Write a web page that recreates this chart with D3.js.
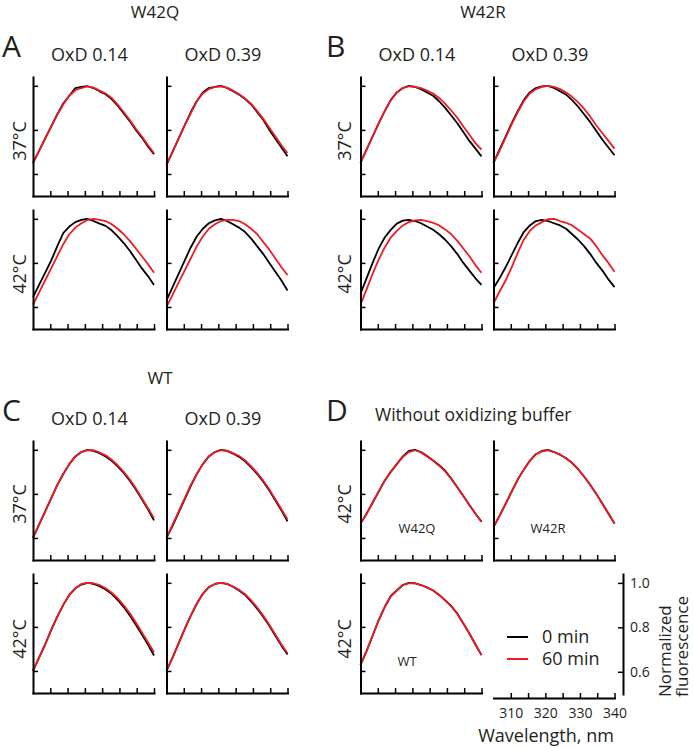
<!DOCTYPE html>
<html><head><meta charset="utf-8">
<script src="https://cdn.jsdelivr.net/npm/d3@7"></script>
<style>
body{margin:0;background:#fff}
svg text{font-family:"Open Sans","Noto Sans",sans-serif;fill:#231f20}
</style>
</head><body>
<svg id="chart" width="693" height="748"></svg>
<script>
// ---------- data ----------
const wavelengths = [305,306.75,308.5,310.25,312,313.75,315.5,317.25,319,320.75,322.5,324.25,326,327.75,329.5,331.25,333,334.75,336.5,338.25,340];
const xTicks = [310,315,320,325,330,335,340];
const xTickLabels = [310,320,330,340];
const yTicks = [0.6,0.8,1.0];
const seriesNames = ["0 min","60 min"];

// Panel A – W42Q
const w42q_ox014_37_0 = [0.65,0.705,0.76,0.815,0.87,0.92,0.955,0.99,0.995,0.998,0.99,0.975,0.962,0.94,0.91,0.875,0.84,0.80,0.765,0.725,0.69];
const w42q_ox014_37_60 = [0.65,0.705,0.76,0.815,0.868,0.915,0.955,0.98,0.99,0.998,0.992,0.978,0.965,0.945,0.915,0.88,0.845,0.805,0.77,0.73,0.695];
const w42q_ox039_37_0 = [0.64,0.70,0.76,0.82,0.88,0.93,0.97,0.99,0.995,1.0,0.99,0.975,0.96,0.94,0.915,0.88,0.845,0.80,0.76,0.72,0.68];
const w42q_ox039_37_60 = [0.645,0.70,0.76,0.82,0.875,0.93,0.965,0.985,0.995,0.998,0.992,0.978,0.962,0.942,0.918,0.885,0.85,0.81,0.77,0.73,0.695];
const w42q_ox014_42_0 = [0.645,0.70,0.755,0.81,0.875,0.935,0.965,0.985,0.995,1.0,0.99,0.978,0.968,0.948,0.92,0.89,0.855,0.815,0.775,0.74,0.70];
const w42q_ox014_42_60 = [0.61,0.665,0.72,0.775,0.83,0.885,0.93,0.96,0.98,0.995,1.0,0.995,0.99,0.975,0.955,0.93,0.90,0.865,0.83,0.795,0.755];
const w42q_ox039_42_0 = [0.63,0.69,0.75,0.81,0.87,0.92,0.955,0.98,0.993,1.0,0.99,0.975,0.96,0.94,0.91,0.875,0.84,0.80,0.76,0.72,0.675];
const w42q_ox039_42_60 = [0.60,0.655,0.71,0.765,0.82,0.875,0.92,0.955,0.975,0.99,0.995,0.995,0.99,0.975,0.955,0.93,0.895,0.86,0.82,0.78,0.745];

// Panel B – W42R
const w42r_ox014_37_0 = [0.65,0.71,0.77,0.83,0.885,0.935,0.97,0.99,1.0,0.995,0.985,0.97,0.955,0.93,0.90,0.865,0.83,0.79,0.75,0.715,0.68];
const w42r_ox014_37_60 = [0.65,0.71,0.77,0.83,0.885,0.935,0.97,0.99,0.998,0.995,0.99,0.978,0.965,0.945,0.918,0.888,0.855,0.815,0.778,0.74,0.71];
const w42r_ox039_37_0 = [0.65,0.71,0.77,0.83,0.885,0.935,0.97,0.99,0.997,1.0,0.99,0.975,0.96,0.935,0.905,0.87,0.835,0.795,0.755,0.72,0.685];
const w42r_ox039_37_60 = [0.65,0.705,0.765,0.825,0.88,0.93,0.965,0.985,0.995,1.0,0.995,0.985,0.97,0.95,0.925,0.895,0.86,0.82,0.785,0.75,0.715];
const w42r_ox014_42_0 = [0.66,0.73,0.80,0.865,0.915,0.95,0.978,0.992,0.995,0.99,0.98,0.965,0.95,0.93,0.905,0.875,0.84,0.80,0.765,0.73,0.70];
const w42r_ox014_42_60 = [0.61,0.68,0.75,0.815,0.87,0.915,0.945,0.97,0.985,0.993,0.995,0.99,0.982,0.97,0.952,0.93,0.90,0.865,0.83,0.79,0.755];
const w42r_ox039_42_0 = [0.685,0.73,0.78,0.835,0.89,0.94,0.97,0.99,0.995,0.99,0.98,0.97,0.955,0.93,0.905,0.875,0.84,0.80,0.765,0.725,0.69];
const w42r_ox039_42_60 = [0.617,0.67,0.72,0.78,0.845,0.905,0.945,0.97,0.985,0.998,1.0,0.99,0.982,0.97,0.95,0.93,0.91,0.875,0.835,0.80,0.76];

// Panel C – WT
const wt_ox014_37_0 = [0.60,0.66,0.72,0.78,0.84,0.89,0.935,0.97,0.99,1.0,0.995,0.985,0.97,0.95,0.925,0.895,0.86,0.82,0.775,0.73,0.68];
const wt_ox014_37_60 = [0.60,0.66,0.72,0.78,0.84,0.89,0.935,0.97,0.99,0.998,0.998,0.988,0.975,0.955,0.93,0.90,0.865,0.825,0.78,0.735,0.69];
const wt_ox039_37_0 = [0.60,0.655,0.715,0.775,0.835,0.89,0.935,0.97,0.99,1.0,0.995,0.983,0.968,0.948,0.92,0.89,0.855,0.815,0.77,0.725,0.675];
const wt_ox039_37_60 = [0.60,0.66,0.72,0.78,0.84,0.89,0.935,0.97,0.99,0.998,0.996,0.985,0.972,0.952,0.925,0.895,0.86,0.82,0.775,0.73,0.685];
const wt_ox014_42_0 = [0.60,0.66,0.72,0.785,0.845,0.90,0.945,0.975,0.992,1.0,0.995,0.985,0.97,0.95,0.922,0.89,0.852,0.81,0.765,0.72,0.67];
const wt_ox014_42_60 = [0.60,0.66,0.72,0.785,0.845,0.90,0.945,0.975,0.995,1.0,0.998,0.99,0.975,0.955,0.93,0.898,0.862,0.82,0.775,0.73,0.685];
const wt_ox039_42_0 = [0.60,0.66,0.725,0.79,0.85,0.905,0.95,0.98,0.995,1.0,0.995,0.982,0.965,0.945,0.915,0.882,0.845,0.805,0.76,0.715,0.675];
const wt_ox039_42_60 = [0.60,0.66,0.725,0.79,0.85,0.905,0.95,0.98,0.995,1.0,0.995,0.983,0.968,0.948,0.92,0.888,0.85,0.81,0.765,0.72,0.68];

// Panel D – without oxidizing buffer, 42 °C
const noox_w42q_0 = [0.665,0.71,0.76,0.81,0.86,0.90,0.935,0.97,0.995,1.0,0.99,0.972,0.952,0.93,0.905,0.87,0.83,0.79,0.75,0.71,0.675];
const noox_w42q_60 = [0.665,0.71,0.76,0.81,0.86,0.90,0.935,0.968,0.99,0.998,0.988,0.97,0.95,0.928,0.902,0.868,0.83,0.79,0.75,0.71,0.672];
const noox_w42r_0 = [0.65,0.70,0.755,0.81,0.865,0.91,0.95,0.98,0.995,1.0,0.99,0.978,0.962,0.94,0.912,0.878,0.84,0.80,0.755,0.71,0.665];
const noox_w42r_60 = [0.65,0.70,0.755,0.81,0.865,0.91,0.95,0.98,0.993,0.998,0.99,0.978,0.962,0.94,0.912,0.878,0.84,0.80,0.755,0.712,0.665];
const noox_wt_0 = [0.627,0.69,0.76,0.83,0.89,0.94,0.965,0.99,1.0,0.998,0.99,0.98,0.965,0.945,0.92,0.895,0.86,0.815,0.77,0.72,0.672];
const noox_wt_60 = [0.627,0.69,0.76,0.83,0.89,0.938,0.965,0.99,0.998,0.998,0.99,0.978,0.965,0.945,0.92,0.893,0.86,0.815,0.77,0.72,0.672];

// ---------- layout ----------
const COLORS = ["#000000", "#ec1c24"];
const PW = 121, PH = 119;
const colX = [33, 166.5, 360.5, 493.5];
const rowY = [77, 210, 441, 574];

const panels = [
  {c:0,r:0,s:[w42q_ox014_37_0,w42q_ox014_37_60]},
  {c:1,r:0,s:[w42q_ox039_37_0,w42q_ox039_37_60]},
  {c:0,r:1,s:[w42q_ox014_42_0,w42q_ox014_42_60]},
  {c:1,r:1,s:[w42q_ox039_42_0,w42q_ox039_42_60]},
  {c:2,r:0,s:[w42r_ox014_37_0,w42r_ox014_37_60]},
  {c:3,r:0,s:[w42r_ox039_37_0,w42r_ox039_37_60]},
  {c:2,r:1,s:[w42r_ox014_42_0,w42r_ox014_42_60]},
  {c:3,r:1,s:[w42r_ox039_42_0,w42r_ox039_42_60]},
  {c:0,r:2,s:[wt_ox014_37_0,wt_ox014_37_60]},
  {c:1,r:2,s:[wt_ox039_37_0,wt_ox039_37_60]},
  {c:0,r:3,s:[wt_ox014_42_0,wt_ox014_42_60]},
  {c:1,r:3,s:[wt_ox039_42_0,wt_ox039_42_60]},
  {c:2,r:2,s:[noox_w42q_0,noox_w42q_60]},
  {c:3,r:2,s:[noox_w42r_0,noox_w42r_60]},
  {c:2,r:3,s:[noox_wt_0,noox_wt_60]}
];

const svg = d3.select("#chart");

function styleAxis(g){
  g.select(".domain").attr("stroke","#000").attr("stroke-width",2).attr("stroke-linecap","square");
  g.selectAll(".tick line").attr("stroke","#000").attr("stroke-width",1.5);
}

panels.forEach(p => {
  const x0 = colX[p.c], y0 = rowY[p.r];
  const x = d3.scaleLinear().domain([305,340]).range([x0, x0+PW]);
  const y = d3.scaleLinear().domain([0.5,1.04]).range([y0+PH, y0]);
  const g = svg.append("g");
  const line = d3.line().x((d,i)=>x(wavelengths[i])).y(d=>y(d));
  p.s.forEach((vals,k) => {
    g.append("path").datum(vals).attr("d", line)
      .attr("fill","none").attr("stroke",COLORS[k]).attr("stroke-width",1.8)
      .attr("stroke-linejoin","round");
  });
  g.append("g").attr("transform",`translate(${x0},0)`)
    .call(d3.axisRight(y).tickValues(yTicks).tickSize(5).tickSizeOuter(0).tickFormat(""))
    .call(styleAxis);
  g.append("g").attr("transform",`translate(0,${y0+PH})`)
    .call(d3.axisTop(x).tickValues(xTicks).tickSize(5).tickSizeOuter(0).tickFormat(""))
    .call(styleAxis);
});

// scale-bar axes in the empty cell of D
{
  const x0 = colX[3], y0 = rowY[3];
  const x = d3.scaleLinear().domain([305,340]).range([x0, x0+PW]);
  const y = d3.scaleLinear().domain([0.5,1.04]).range([y0+PH+1, y0]);
  const ax = svg.append("g").attr("transform",`translate(0,${y0+PH+5})`)
    .call(d3.axisBottom(x).tickValues(xTicks).tickSize(-5).tickSizeOuter(0).tickPadding(10)
      .tickFormat(d => xTickLabels.includes(d) ? d : ""))
    .call(styleAxis);
  ax.selectAll("text").attr("font-size",14).attr("font-family",null);
  const ay = svg.append("g").attr("transform",`translate(623,0)`)
    .call(d3.axisRight(y).tickValues(yTicks).tickSize(-5).tickSizeOuter(0).tickPadding(7)
      .tickFormat(d3.format(".1f")))
    .call(styleAxis);
  ay.selectAll("text").attr("font-size",14).attr("font-family",null);
  svg.append("text").attr("x",546).attr("y",742).attr("text-anchor","middle")
    .attr("font-size",18).text("Wavelength, nm");
  svg.append("text").attr("transform","translate(671,697) rotate(-90)")
    .attr("font-size",17).text("Normalized");
  svg.append("text").attr("transform","translate(688,697) rotate(-90)")
    .attr("font-size",17).text("fluorescence");
  // legend
  seriesNames.forEach((name,k) => {
    const ly = 637 + k*22;
    svg.append("line").attr("x1",507).attr("x2",528).attr("y1",ly).attr("y2",ly)
      .attr("stroke",COLORS[k]).attr("stroke-width",2);
    svg.append("text").attr("x",542).attr("y",ly+6).attr("font-size",18).text(name);
  });
}

// ---------- text labels ----------
function txt(x,y,s,size,anchor,rot){
  const t = svg.append("text").attr("font-size",size).attr("text-anchor",anchor||"start").text(s);
  if(rot) t.attr("transform",`translate(${x},${y}) rotate(-90)`);
  else t.attr("x",x).attr("y",y);
  return t;
}
txt(155,18,"W42Q",17,"middle");
txt(483,18,"W42R",17,"middle");
txt(160,384,"WT",17,"middle");
txt(2,57,"A",30);
txt(326,57,"B",30);
txt(2,421,"C",30);
txt(326,421,"D",30);
txt(375,421,"Without oxidizing buffer",17.5);
[[89.5,61],[223,61],[417,61],[550,61],[89.5,425],[223,425]].forEach((p,i)=>{
  txt(p[0],p[1], i%2===0 ? "OxD 0.14" : "OxD 0.39", 18, "middle");
});
// row labels (rotated)
[[26,141,"37°C"],[26,274,"42°C"],[351,141,"37°C"],[351,274,"42°C"],
 [26,504,"37°C"],[26,639,"42°C"],[351,504,"42°C"],[351,639,"42°C"]].forEach(r=>{
  txt(r[0],r[1],r[2],18,"middle",true);
});
txt(417,533,"W42Q",13,"middle");
txt(548,533,"W42R",13,"middle");
txt(407,666,"WT",13,"middle");
</script>
</body></html>
